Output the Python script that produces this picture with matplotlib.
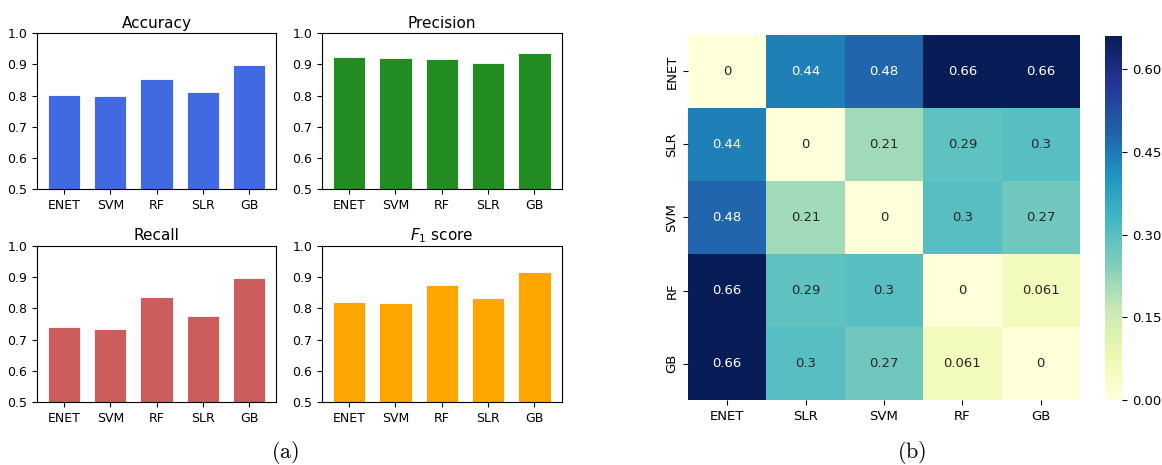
import matplotlib
matplotlib.use("Agg")
import matplotlib.pyplot as plt
import numpy as np
import seaborn as sns

# Classifier metrics
models = ["ENET", "SVM", "RF", "SLR", "GB"]
accuracy = [0.801, 0.798, 0.853, 0.811, 0.899]
precision = [0.923, 0.922, 0.917, 0.904, 0.936]
recall = [0.739, 0.733, 0.838, 0.776, 0.899]
f1_score = [0.821, 0.816, 0.874, 0.834, 0.917]

# Pairwise distance between classifiers
dist_labels = ["ENET", "SLR", "SVM", "RF", "GB"]
dist_enet = [0, 0.44, 0.48, 0.66, 0.66]
dist_slr = [0.44, 0, 0.21, 0.29, 0.3]
dist_svm = [0.48, 0.21, 0, 0.3, 0.27]
dist_rf = [0.66, 0.29, 0.3, 0, 0.061]
dist_gb = [0.66, 0.3, 0.27, 0.061, 0]
cbar_ticks = [0.0, 0.15, 0.30, 0.45, 0.60]

fig = plt.figure(figsize=(11.62, 4.65), dpi=100)

W, H = 1162.0, 465.0

def frac(x0, y0, x1, y1):
    return [x0 / W, 1 - y1 / H, (x1 - x0) / W, (y1 - y0) / H]

panels = [
    ("Accuracy", accuracy, "royalblue", frac(37, 33.3, 276, 189.3)),
    ("Precision", precision, "forestgreen", frac(322, 33.3, 561.5, 189.3)),
    ("Recall", recall, "indianred", frac(37, 246, 276, 402)),
    (r"$F_1$ score", f1_score, "orange", frac(322, 246, 561.5, 402)),
]

x = np.arange(len(models))
for title, vals, color, rect in panels:
    ax = fig.add_axes(rect)
    ax.bar(x, vals, width=0.7, color=color, edgecolor="white", linewidth=0.6)
    ax.set_ylim(0.5, 1.0)
    ax.set_yticks([0.5, 0.6, 0.7, 0.8, 0.9, 1.0])
    ax.set_xticks(x)
    ax.set_xticklabels(models)
    ax.tick_params(labelsize=9, length=3.5)
    ax.set_title(title, fontsize=11, pad=4)

# Distance heatmap
dist = np.array([dist_enet, dist_slr, dist_svm, dist_rf, dist_gb])
hax = fig.add_axes(frac(688, 35, 1080, 400))
cax = fig.add_axes(frac(1105, 36, 1122, 400))
sns.heatmap(dist, ax=hax, cbar_ax=cax, cmap="YlGnBu", annot=True,
            annot_kws={"fontsize": 9.5},
            xticklabels=dist_labels, yticklabels=dist_labels,
            cbar_kws={"ticks": cbar_ticks, "format": "%.2f"})
hax.tick_params(labelsize=9.5, length=3.5)
hax.set_yticklabels(dist_labels, rotation=90, va="center")
hax.set_xticklabels(dist_labels, rotation=0)
cax.tick_params(labelsize=9.5, length=3.5)

plt.rcParams["mathtext.fontset"] = "cm"
fig.text(285 / W, 1 - 452 / H, r"$\mathrm{(a)}$", fontsize=16, ha="center", va="center")
fig.text(912 / W, 1 - 452 / H, r"$\mathrm{(b)}$", fontsize=16, ha="center", va="center")

fig.savefig("out.png", dpi=100)
